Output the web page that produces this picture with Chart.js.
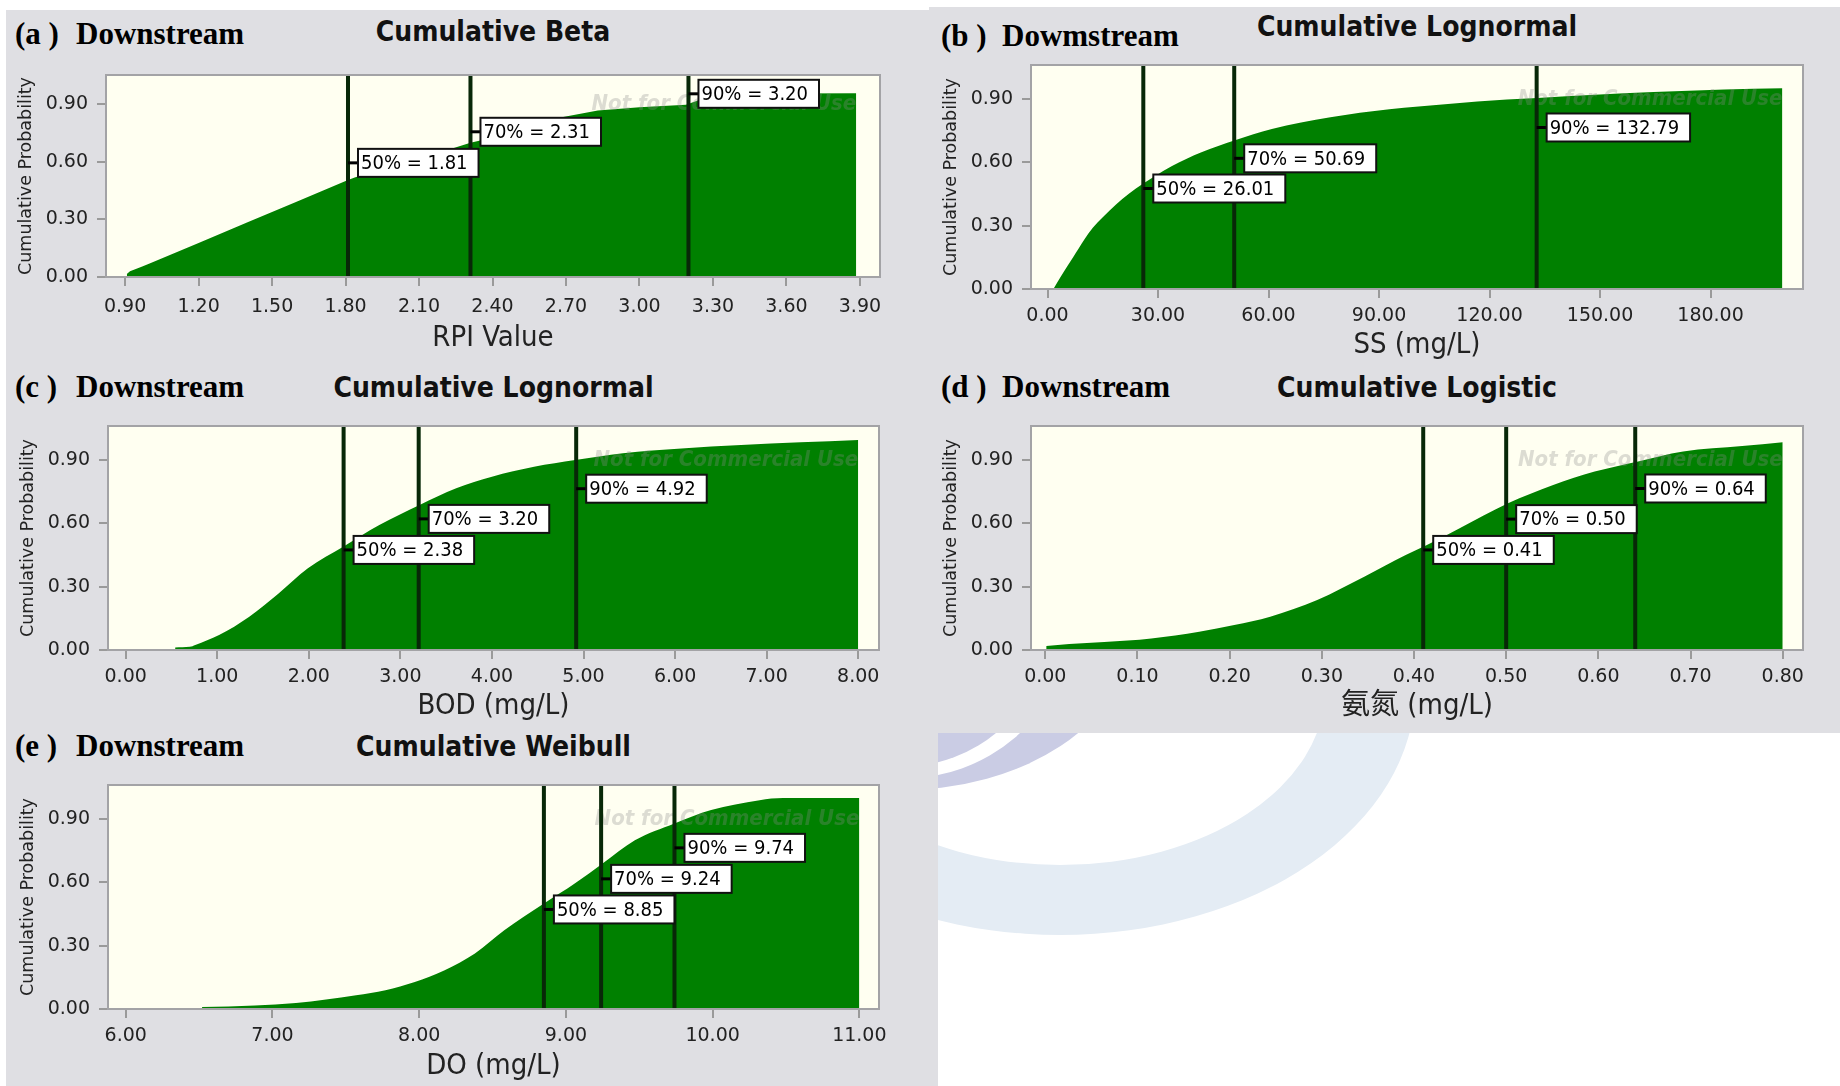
<!DOCTYPE html>
<html>
<head>
<meta charset="utf-8">
<script src="https://cdn.jsdelivr.net/npm/chart.js@4.4.0/dist/chart.umd.min.js"></script>
<style>
  body { margin: 0; width: 1840px; height: 1086px; position: relative; overflow: hidden; background: #fff; }
  .bg { position: absolute; background: #dfdfe3; }
  .hd { position: absolute; font: bold 31px "Liberation Serif", "Times New Roman", serif; color: #000; transform: translateY(-50%); white-space: pre; }
  .ttl { position: absolute; font: bold 28px "DejaVu Sans Condensed", "DejaVu Sans", sans-serif; color: #111; text-align: center; transform: translateY(-50%); }
  canvas { position: absolute; }
  svg { position: absolute; left: 0; top: 0; }
</style>
</head>
<body>
<div class="bg" style="left:6px;top:10px;width:932px;height:1076px"></div>
<div class="bg" style="left:929px;top:7px;width:911px;height:726px"></div>
<svg width="1840" height="1086">
  <defs><clipPath id="wh"><rect x="938" y="733" width="902" height="353"/></clipPath></defs>
  <g clip-path="url(#wh)">
    <path fill="#e4ecf4" fill-rule="evenodd" d="M705,690 a355,245 0 1,0 710,0 a355,245 0 1,0 -710,0 Z M795,690 a265,175 0 1,0 530,0 a265,175 0 1,0 -530,0 Z"/>
    <path fill="#caccE4" fill-rule="evenodd" d="M673,640 a227,150 0 1,0 454,0 a227,150 0 1,0 -454,0 Z M738.5,640 a161.5,139 0 1,0 323,0 a161.5,139 0 1,0 -323,0 Z"/>
    <ellipse cx="900" cy="640" rx="141" ry="127" fill="#caccE4"/>
  </g>
</svg>

<div class="hd" style="left:15px;top:34px">(a )</div><div class="hd" style="left:76px;top:34px">Downstream</div>
<div class="hd" style="left:941px;top:36px">(b )</div><div class="hd" style="left:1002px;top:36px">Dowmstream</div>
<div class="hd" style="left:15px;top:387px">(c )</div><div class="hd" style="left:76px;top:387px">Downstream</div>
<div class="hd" style="left:941px;top:387px">(d )</div><div class="hd" style="left:1002px;top:387px">Downstream</div>
<div class="hd" style="left:15px;top:746px">(e )</div><div class="hd" style="left:76px;top:746px">Downstream</div>

<div class="ttl" style="left:106px;width:774px;top:31px">Cumulative Beta</div>
<div class="ttl" style="left:1031px;width:772px;top:26px">Cumulative Lognormal</div>
<div class="ttl" style="left:108px;width:771px;top:387px">Cumulative Lognormal</div>
<div class="ttl" style="left:1031px;width:772px;top:387px">Cumulative Logistic</div>
<div class="ttl" style="left:108px;width:771px;top:746px">Cumulative Weibull</div>

<script>
const probTicks = [0, 0.3, 0.6, 0.9];
const pctNames = ["50%", "70%", "90%"];

// (a) RPI, cumulative beta
const rpiTicks = [0.9, 1.2, 1.5, 1.8, 2.1, 2.4, 2.7, 3.0, 3.3, 3.6, 3.9];
const rpiX = [0.907, 0.92, 0.97, 1.0, 1.2, 1.4, 1.6, 1.81, 1.84, 2.0, 2.2, 2.31, 2.35, 2.5, 2.65, 2.83, 3.0, 3.19, 3.25, 3.4, 3.6, 3.885];
const rpiP = [0.015, 0.03, 0.055, 0.07, 0.177, 0.285, 0.392, 0.505, 0.52, 0.575, 0.655, 0.70, 0.712, 0.77, 0.825, 0.868, 0.885, 0.898, 0.925, 0.948, 0.956, 0.958];
const rpiPct = [1.81, 2.31, 3.20];

// (b) SS, cumulative lognormal
const ssTicks = [0, 30, 60, 90, 120, 150, 180];
const ssX = [1.6, 4, 7, 10, 12.3, 15, 18.6, 22, 26, 29, 33.8, 41.8, 50.9, 60.9, 76.8, 92.8, 108.7, 124.7, 133, 148.6, 164.5, 183.7, 199.5];
const ssP = [0.0, 0.07, 0.152, 0.235, 0.29, 0.34, 0.40, 0.45, 0.50, 0.533, 0.583, 0.648, 0.705, 0.758, 0.813, 0.851, 0.876, 0.897, 0.905, 0.92, 0.933, 0.945, 0.951];
const ssPct = [26.01, 50.69, 132.79];

// (c) BOD, cumulative lognormal
const bodTicks = [0, 1, 2, 3, 4, 5, 6, 7, 8];
const bodX = [0.54, 0.7, 0.76, 1.02, 1.35, 1.67, 1.99, 2.38, 2.77, 3.21, 3.61, 4.0, 4.46, 4.91, 5.43, 6.07, 6.72, 7.37, 8.0];
const bodP = [0.012, 0.015, 0.024, 0.071, 0.158, 0.268, 0.387, 0.49, 0.592, 0.687, 0.766, 0.821, 0.868, 0.9, 0.932, 0.955, 0.971, 0.984, 0.995];
const bodPct = [2.38, 3.20, 4.92];

// (d) 氨氮, cumulative logistic
const nh3Ticks = [0, 0.1, 0.2, 0.3, 0.4, 0.5, 0.6, 0.7, 0.8];
const nh3X = [0.001, 0.026, 0.064, 0.115, 0.167, 0.205, 0.244, 0.295, 0.346, 0.391, 0.414, 0.449, 0.502, 0.551, 0.596, 0.642, 0.692, 0.756, 0.8];
const nh3P = [0.019, 0.028, 0.038, 0.055, 0.087, 0.118, 0.158, 0.237, 0.347, 0.45, 0.497, 0.576, 0.695, 0.782, 0.845, 0.892, 0.94, 0.966, 0.984];
const nh3Pct = [0.41, 0.50, 0.64];

// (e) DO, cumulative weibull
const doTicks = [6, 7, 8, 9, 10, 11];
const doX = [6.52, 6.88, 7.16, 7.57, 7.77, 7.97, 8.17, 8.38, 8.58, 8.85, 9.06, 9.25, 9.47, 9.74, 9.99, 10.32, 10.48, 11.0];
const doP = [0.009, 0.017, 0.028, 0.065, 0.089, 0.128, 0.183, 0.263, 0.373, 0.5, 0.595, 0.69, 0.80, 0.88, 0.943, 0.99, 1.0, 1.0];
const doPct = [8.85, 9.24, 9.74];

const panels = [
  { plot: [106, 75, 880, 277], xMin: 0.822, xMax: 3.982, yMax: 1.053, ticks: rpiTicks, xs: rpiX, ps: rpiP, pct: rpiPct, labelAt: [0.595, 0.757, 0.955], xTitle: "RPI Value", titlePad: 6, tickPad: 10, smooth: false },
  { plot: [1031, 65, 1803, 289], xMin: -4.48, xMax: 205.1, yMax: 1.061, ticks: ssTicks, xs: ssX, ps: ssP, pct: ssPct, labelAt: [0.476, 0.619, 0.765], xTitle: "SS (mg/L)", titlePad: 11, tickPad: 7, smooth: true },
  { plot: [108, 426, 879, 650], xMin: -0.193, xMax: 8.227, yMax: 1.061, ticks: bodTicks, xs: bodX, ps: bodP, pct: bodPct, labelAt: [0.474, 0.621, 0.764], xTitle: "BOD (mg/L)", titlePad: 11, tickPad: 7, smooth: true },
  { plot: [1031, 426, 1803, 650], xMin: -0.0155, xMax: 0.822, yMax: 1.061, ticks: nh3Ticks, xs: nh3X, ps: nh3P, pct: nh3Pct, labelAt: [0.474, 0.62, 0.765], xTitle: "氨氮 (mg/L)", titlePad: 11, tickPad: 7, smooth: true },
  { plot: [108, 785, 879, 1009], xMin: 5.879, xMax: 11.134, yMax: 1.062, ticks: doTicks, xs: doX, ps: doP, pct: doPct, labelAt: [0.472, 0.617, 0.764], xTitle: "DO (mg/L)", titlePad: 10, tickPad: 7, smooth: true }
];

const LEFT = 100, TOP = 20, RIGHT = 40, BOTTOM = 85;

const frame = {
  id: "frame",
  beforeDraw(chart) {
    const a = chart.chartArea, ctx = chart.ctx;
    ctx.save();
    ctx.fillStyle = "#fffff1";
    ctx.fillRect(a.left, a.top, a.right - a.left, a.bottom - a.top);
    ctx.restore();
  },
  afterDatasetsDraw(chart) {
    const p = chart.config.options.plugins.frame;
    const a = chart.chartArea, ctx = chart.ctx;
    const xs = chart.scales.x, ys = chart.scales.y;
    ctx.save();
    // faint watermark
    ctx.font = 'italic bold 22px "DejaVu Sans Condensed", sans-serif';
    ctx.fillStyle = "rgba(140,140,140,0.3)";
    ctx.textAlign = "right";
    ctx.textBaseline = "middle";
    ctx.fillText("Not for Commercial Use", xs.getPixelForValue(p.xEnd), ys.getPixelForValue(0.9));
    // percentile lines
    const px = p.pct.map(v => xs.getPixelForValue(v));
    ctx.strokeStyle = "#082808";
    ctx.lineWidth = 4;
    px.forEach(x => {
      ctx.beginPath();
      ctx.moveTo(x, a.top);
      ctx.lineTo(x, a.bottom);
      ctx.stroke();
    });
    // labels
    ctx.font = '20px "DejaVu Sans Condensed", sans-serif';
    ctx.textAlign = "left";
    p.pct.forEach((v, i) => {
      const x = px[i], y = ys.getPixelForValue(p.labelAt[i]);
      const text = pctNames[i] + " = " + v.toFixed(2);
      const tw = ctx.measureText(text).width;
      const bx = x + 10, bh = 28, bw = tw + 14;
      ctx.strokeStyle = "#000";
      ctx.lineWidth = 3;
      ctx.beginPath();
      ctx.moveTo(x, y);
      ctx.lineTo(bx, y);
      ctx.stroke();
      ctx.fillStyle = "#fff";
      ctx.fillRect(bx, y - bh / 2, bw, bh);
      ctx.lineWidth = 2;
      ctx.strokeStyle = "#111";
      ctx.strokeRect(bx, y - bh / 2, bw, bh);
      ctx.fillStyle = "#000";
      ctx.fillText(text, bx + 3, y + 1);
    });
    ctx.restore();
  },
  afterDraw(chart) {
    const a = chart.chartArea, ctx = chart.ctx;
    ctx.save();
    ctx.strokeStyle = "#a3a3a6";
    ctx.lineWidth = 2;
    ctx.strokeRect(a.left, a.top, a.right - a.left, a.bottom - a.top);
    ctx.restore();
  }
};

const tickFont = { family: "DejaVu Sans", size: 19 };

panels.forEach(p => {
  const cv = document.createElement("canvas");
  const w = p.plot[2] - p.plot[0] + LEFT + RIGHT;
  const h = p.plot[3] - p.plot[1] + TOP + BOTTOM;
  cv.width = w;
  cv.height = h;
  cv.style.left = (p.plot[0] - LEFT) + "px";
  cv.style.top = (p.plot[1] - TOP) + "px";
  cv.style.width = w + "px";
  cv.style.height = h + "px";
  document.body.appendChild(cv);

  new Chart(cv, {
    type: "line",
    data: {
      datasets: [{
        data: p.xs.map((x, i) => ({ x: x, y: p.ps[i] })),
        fill: "origin",
        backgroundColor: "#008000",
        borderWidth: 0,
        pointRadius: 0,
        cubicInterpolationMode: p.smooth ? "monotone" : "default",
        tension: 0
      }]
    },
    options: {
      responsive: false,
      animation: false,
      events: [],
      layout: { autoPadding: false, padding: { left: 0, top: TOP, right: RIGHT, bottom: 0 } },
      plugins: {
        legend: { display: false },
        tooltip: { enabled: false },
        frame: { pct: p.pct, labelAt: p.labelAt, xEnd: p.xs[p.xs.length - 1] }
      },
      scales: {
        x: {
          type: "linear",
          min: p.xMin,
          max: p.xMax,
          afterBuildTicks: s => { s.ticks = p.ticks.map(v => ({ value: v })); },
          afterFit: s => { s.height = BOTTOM; s.paddingLeft = 0; s.paddingRight = 0; },
          ticks: { autoSkip: false, maxRotation: 0, font: tickFont, color: "#222", padding: p.tickPad, callback: v => v.toFixed(2) },
          grid: { drawOnChartArea: false, drawTicks: true, tickLength: 9, color: "#9a9a9a", lineWidth: 2 },
          border: { display: false },
          title: { display: true, text: p.xTitle, color: "#222", font: { family: "'DejaVu Sans Condensed', 'Noto Sans CJK SC', sans-serif", size: 29 }, padding: { top: 0, bottom: p.titlePad } }
        },
        y: {
          min: 0,
          max: p.yMax,
          afterBuildTicks: s => { s.ticks = probTicks.map(v => ({ value: v })); },
          afterFit: s => { s.width = LEFT; s.paddingTop = 0; s.paddingBottom = 0; },
          ticks: { font: tickFont, color: "#222", padding: 9, callback: v => v.toFixed(2) },
          grid: { drawOnChartArea: false, drawTicks: true, tickLength: 9, color: "#9a9a9a", lineWidth: 2 },
          border: { display: false },
          title: { display: true, text: "Cumulative Probability", color: "#222", font: { family: "DejaVu Sans", size: 17.5 }, padding: { top: 10, bottom: 0 } }
        }
      }
    },
    plugins: [frame]
  });
});
</script>
</body>
</html>
